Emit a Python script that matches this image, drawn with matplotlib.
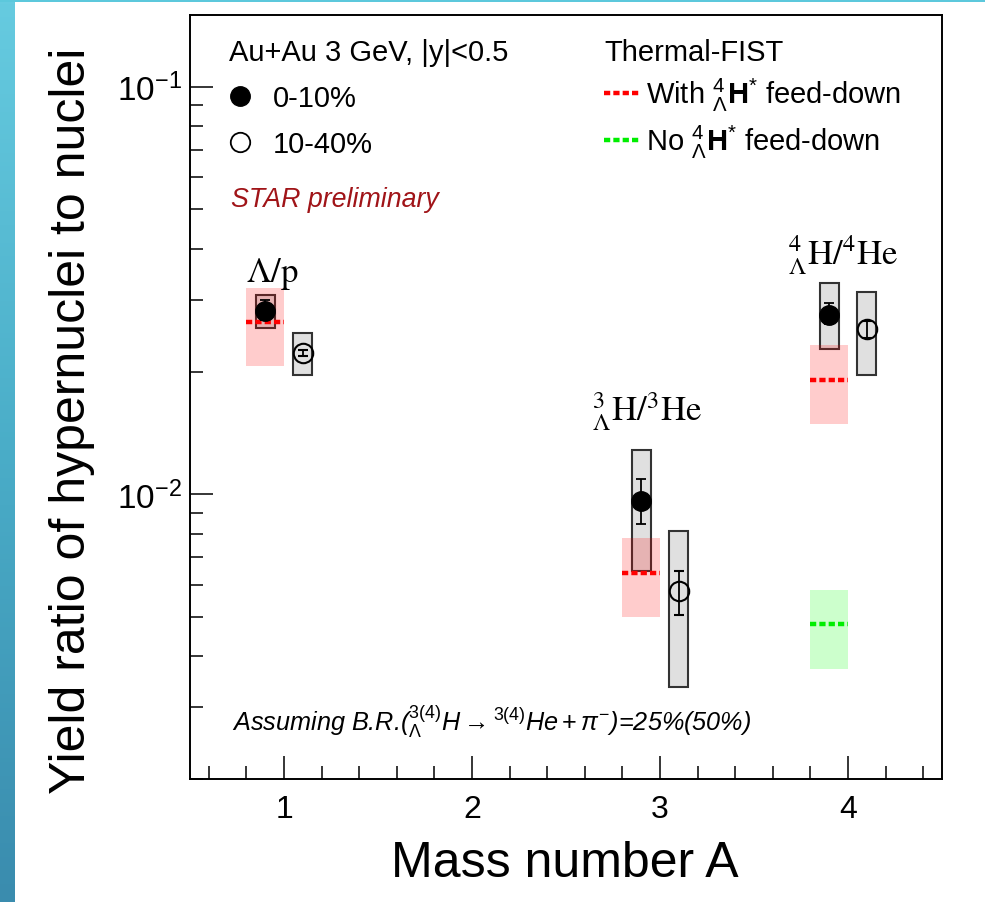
import numpy as np
import matplotlib
matplotlib.use('Agg')
import matplotlib.pyplot as plt
from matplotlib.lines import Line2D
from matplotlib.patches import Rectangle
from matplotlib.colors import LinearSegmentedColormap
from matplotlib.ticker import MultipleLocator, NullFormatter, FixedLocator

plt.rcParams['font.family'] = ['Liberation Sans', 'DejaVu Sans']
plt.rcParams['mathtext.fontset'] = 'custom'
plt.rcParams['mathtext.rm'] = 'Liberation Sans'
plt.rcParams['mathtext.it'] = 'Liberation Sans:italic'
plt.rcParams['mathtext.bf'] = 'Liberation Sans:bold'

# data: ratios at A = 1 (Lambda/p), 3 (3LH/3He), 4 (4LH/4He)
mass_number = [1, 3, 4]
ratio_names = [r'$\Lambda/\mathrm{p}$',
               r'${}^{3}_{\Lambda}\mathrm{H}/{}^{3}\mathrm{He}$',
               r'${}^{4}_{\Lambda}\mathrm{H}/{}^{4}\mathrm{He}$']

# 0-10% centrality
y_0_10 = [0.0282, 0.00963, 0.0276]
stat_lo_0_10 = [0.0268, 0.00843, 0.0261]
stat_hi_0_10 = [0.0300, 0.01091, 0.0294]
sys_lo_0_10 = [0.0256, 0.00647, 0.0227]
sys_hi_0_10 = [0.0308, 0.01283, 0.0329]

# 10-40% centrality
y_10_40 = [0.0222, 0.00578, 0.0255]
stat_lo_10_40 = [0.0218, 0.00506, 0.0242]
stat_hi_10_40 = [0.0226, 0.00647, 0.0266]
sys_lo_10_40 = [0.0196, 0.00337, 0.0196]
sys_hi_10_40 = [0.0249, 0.00813, 0.0313]

# Thermal-FIST, with 4LH* feed-down
fist_with = [0.0264, 0.00641, 0.0191]
fist_with_lo = [0.0206, 0.00499, 0.01486]
fist_with_hi = [0.0320, 0.00779, 0.0232]

# Thermal-FIST, no 4LH* feed-down (A = 4 only)
fist_no_A = [4]
fist_no = [0.00481]
fist_no_lo = [0.00373]
fist_no_hi = [0.00581]

W, H = 985, 903
fig = plt.figure(figsize=(W / 100, H / 100), dpi=100)

# slide decoration: left gradient strip + top line
ax_strip = fig.add_axes([0, 0, 15 / W, 1])
strip_cmap = LinearSegmentedColormap.from_list('strip', ['#66cbe0', '#4aadc8', '#3a8cae'])
ax_strip.imshow(np.linspace(0, 1, 200)[:, None], aspect='auto', cmap=strip_cmap)
ax_strip.axis('off')
fig.add_artist(Rectangle((0, 1 - 2.5 / H), 1, 2.5 / H, transform=fig.transFigure,
                         color='#5cc8dc', lw=0))

ax = fig.add_axes([190 / W, 1 - 780 / H, 752 / W, 764 / H])
ax.set_yscale('log')
ax.set_xlim(0.5, 4.5)
ax.set_ylim(0.002, 0.15)

x_a = np.array(mass_number) - 0.1
x_b = np.array(mass_number) + 0.1
x_no = np.array(fist_no_A) - 0.1

y_a = np.array(y_0_10)
y_b = np.array(y_10_40)

# systematic boxes
ax.bar(x_a, np.array(sys_hi_0_10) - np.array(sys_lo_0_10), bottom=sys_lo_0_10, width=0.1,
       facecolor='#e0e0e0', edgecolor='#333333', lw=1.5, zorder=1)
ax.bar(x_b, np.array(sys_hi_10_40) - np.array(sys_lo_10_40), bottom=sys_lo_10_40, width=0.1,
       facecolor='#e0e0e0', edgecolor='#333333', lw=1.5, zorder=1)

# model bands
ax.bar(x_a, np.array(fist_with_hi) - np.array(fist_with_lo), bottom=fist_with_lo, width=0.2,
       color='red', alpha=0.2, lw=0, zorder=2)
ax.bar(x_no, np.array(fist_no_hi) - np.array(fist_no_lo), bottom=fist_no_lo, width=0.2,
       color='#00ff00', alpha=0.2, lw=0, zorder=2)
dash = (0, (1.4, 0.7))
ax.hlines(fist_with, x_a - 0.1, x_a + 0.1, colors='red', linestyles=dash, lw=3.2, zorder=3)
ax.hlines(fist_no, x_no - 0.1, x_no + 0.1, colors='#00ee00', linestyles=dash, lw=3.2, zorder=3)

# data points
ax.errorbar(x_a, y_a, yerr=[y_a - np.array(stat_lo_0_10), np.array(stat_hi_0_10) - y_a],
            fmt='o', ms=14, color='black', mfc='black', capsize=3.5, elinewidth=1.3,
            capthick=1.3, zorder=5)
ax.errorbar(x_b, y_b, yerr=[y_b - np.array(stat_lo_10_40), np.array(stat_hi_10_40) - y_b],
            fmt='o', ms=14, color='black', mfc='none', mew=1.5, capsize=3.5, elinewidth=1.3,
            capthick=1.3, zorder=5)

# ratio names
label_x = [0.80, 2.64, 3.68]
label_y = [0.0350, 0.0160, 0.0387]
for lx, ly, name in zip(label_x, label_y, ratio_names):
    ax.text(lx, ly, name, fontsize=25, va='center', ha='left', math_fontfamily='stix')

# axes style (ROOT look)
for s in ax.spines.values():
    s.set_linewidth(1.4)
ax.xaxis.set_major_locator(FixedLocator([1, 2, 3, 4]))
ax.xaxis.set_minor_locator(MultipleLocator(0.2))
ax.yaxis.set_minor_formatter(NullFormatter())
ax.tick_params(which='both', direction='in', top=False, right=False, width=1.1)
ax.tick_params(which='major', length=16.5)
ax.tick_params(which='minor', length=9.4)
ax.tick_params(axis='x', which='major', labelsize=23, pad=11)
ax.tick_params(axis='y', which='major', labelsize=24, pad=6)

ax.set_xlabel('Mass number A', fontsize=36)
ax.set_ylabel('Yield ratio of hypernuclei to nuclei', fontsize=36)
ax.xaxis.set_label_coords(0.4987, -0.080)
ax.yaxis.set_label_coords(-0.126, 0.470)

# legends
h_a = Line2D([], [], marker='o', ls='none', ms=14, color='black')
h_b = Line2D([], [], marker='o', ls='none', ms=14, color='black', mfc='none', mew=1.3)
leg1 = ax.legend([h_a, h_b], ['0-10%', '10-40%'], title='Au+Au 3 GeV, |y|<0.5',
                 loc='upper left', bbox_to_anchor=(0.036, 0.985), frameon=False,
                 alignment='left', fontsize=21, title_fontsize=21, handlelength=0.8,
                 handletextpad=0.7, labelspacing=0.62, borderaxespad=0)
ax.add_artist(leg1)
h_r = Line2D([], [], color='red', ls=dash, lw=3.2)
h_g = Line2D([], [], color='#00ee00', ls=dash, lw=3.2)
lab_r = r'With $^{4}_{\Lambda}\mathbf{H}^{*}$ feed-down'
lab_g = r'No $^{4}_{\Lambda}\mathbf{H}^{*}$ feed-down'
ax.legend([h_r, h_g], [lab_r, lab_g], title='Thermal-FIST',
          loc='upper left', bbox_to_anchor=(0.535, 0.985), frameon=False,
          alignment='left', fontsize=21, title_fontsize=21, handlelength=1.2,
          handletextpad=0.25, labelspacing=0.33, borderaxespad=0)

ax.text(0.0545, 0.759, 'STAR preliminary', transform=ax.transAxes, color='#a01418',
        fontstyle='italic', fontsize=19.3, va='center', ha='left')
ax.text(0.056, 0.076,
        r'Assuming B.R.($^{3(4)}_{\Lambda}\mathit{H}\rightarrow^{3(4)}\mathit{He}+\pi^{-}$)=25%(50%)',
        transform=ax.transAxes, fontstyle='italic', fontsize=18.2, va='center', ha='left')

fig.savefig('out.png', dpi=100)
